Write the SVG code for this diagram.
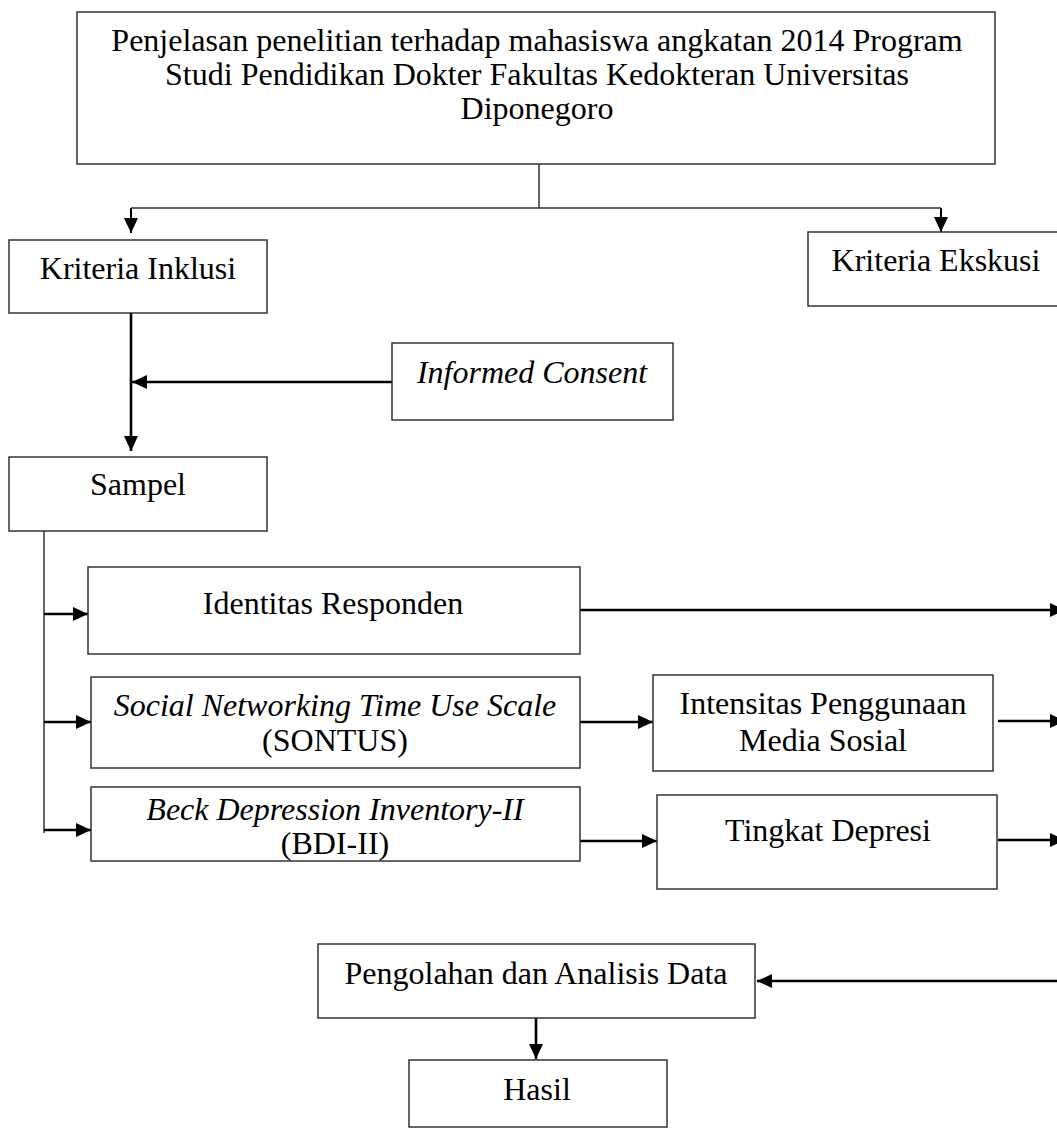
<svg xmlns="http://www.w3.org/2000/svg" width="1057" height="1128" viewBox="0 0 1057 1128">
<style>
.box{fill:#fff;stroke:#333;stroke-width:1.5}
.t{font-family:"Liberation Serif","Times New Roman",serif;font-size:32px;fill:#000;text-anchor:middle}
.i{font-style:italic}
.thin{stroke:#333;stroke-width:1.5;fill:none}
.mid{stroke:#000;stroke-width:2;fill:none}
.thick{stroke:#000;stroke-width:2.6;fill:none}
</style>
<defs>
<marker id="ah" markerUnits="userSpaceOnUse" markerWidth="16" markerHeight="15" refX="15" refY="7" orient="auto">
<path d="M0,0 L15,7 L0,14 Z" fill="#000"/>
</marker>
</defs>
<rect width="1057" height="1128" fill="#fff"/>
<g id="connectors">
<path class="thin" d="M539,164 V208 M131,208 H941"/>
<path class="mid" d="M131,208 V233" marker-end="url(#ah)"/>
<path class="mid" d="M941,208 V232" marker-end="url(#ah)"/>
<path class="thick" d="M131,313 V451" marker-end="url(#ah)"/>
<path class="thick" d="M392,382 H132" marker-end="url(#ah)"/>
<path class="thin" d="M44,531 V833"/>
<path class="thick" d="M44,614 H88" marker-end="url(#ah)"/>
<path class="thick" d="M44,722 H91" marker-end="url(#ah)"/>
<path class="thick" d="M44,830 H91" marker-end="url(#ah)"/>
<path class="thick" d="M580,610 H1065" marker-end="url(#ah)"/>
<path class="thick" d="M580,722 H653" marker-end="url(#ah)"/>
<path class="thick" d="M998,721 H1065" marker-end="url(#ah)"/>
<path class="thick" d="M580,841 H657" marker-end="url(#ah)"/>
<path class="thick" d="M998,840 H1065" marker-end="url(#ah)"/>
<path class="thick" d="M1057,981 H757" marker-end="url(#ah)"/>
<path class="thick" d="M536,1018 V1059" marker-end="url(#ah)"/>
</g>
<g id="penjelasan">
<rect class="box" x="77" y="12" width="918" height="152"/>
<text class="t" x="537" y="51">Penjelasan penelitian terhadap mahasiswa angkatan 2014 Program</text>
<text class="t" x="537" y="85">Studi Pendidikan Dokter Fakultas Kedokteran Universitas</text>
<text class="t" x="537" y="119">Diponegoro</text>
</g>
<g id="kriteria-inklusi">
<rect class="box" x="9" y="240" width="258" height="73"/>
<text class="t" x="138" y="279">Kriteria Inklusi</text>
</g>
<g id="kriteria-ekskusi">
<rect class="box" x="808" y="232" width="260" height="74"/>
<text class="t" x="936" y="271">Kriteria Ekskusi</text>
</g>
<g id="informed-consent">
<rect class="box" x="392" y="343" width="281" height="77"/>
<text class="t i" x="532" y="383">Informed Consent</text>
</g>
<g id="sampel">
<rect class="box" x="9" y="457" width="258" height="74"/>
<text class="t" x="138" y="495">Sampel</text>
</g>
<g id="identitas">
<rect class="box" x="88" y="567" width="492" height="87"/>
<text class="t" x="333" y="614">Identitas Responden</text>
</g>
<g id="sontus">
<rect class="box" x="91" y="677" width="489" height="91"/>
<text class="t i" x="335" y="716">Social Networking Time Use Scale</text>
<text class="t" x="335" y="751">(SONTUS)</text>
</g>
<g id="bdi">
<rect class="box" x="91" y="787" width="489" height="74"/>
<text class="t i" x="335" y="820">Beck Depression Inventory-II</text>
<text class="t" x="335" y="854">(BDI-II)</text>
</g>
<g id="intensitas">
<rect class="box" x="653" y="675" width="340" height="96"/>
<text class="t" x="823" y="714">Intensitas Penggunaan</text>
<text class="t" x="823" y="751">Media Sosial</text>
</g>
<g id="tingkat">
<rect class="box" x="657" y="795" width="340" height="94"/>
<text class="t" x="828" y="841">Tingkat Depresi</text>
</g>
<g id="pengolahan">
<rect class="box" x="318" y="944" width="437" height="74"/>
<text class="t" x="536" y="984">Pengolahan dan Analisis Data</text>
</g>
<g id="hasil">
<rect class="box" x="409" y="1060" width="258" height="67"/>
<text class="t" x="537" y="1100">Hasil</text>
</g>
</svg>
